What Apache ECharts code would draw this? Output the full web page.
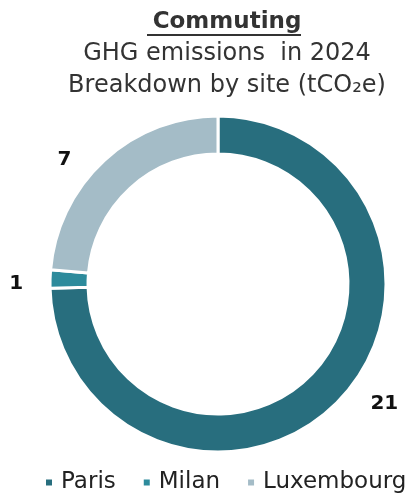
<!DOCTYPE html>
<html>
<head>
<meta charset="utf-8">
<script src="https://cdn.jsdelivr.net/npm/echarts@6/dist/echarts.min.js"></script>
<style>
html,body{margin:0;padding:0;background:#fff;}
#chart{width:412px;height:494px;}
</style>
</head>
<body>
<div id="chart"></div>
<script>
var categories = ['Paris', 'Milan', 'Luxembourg'];
var values = [21.45, 0.5, 6.8];
var colors = ['#286E7E', '#2D8B9C', '#A4BCC7'];
var titleText = 'Commuting';
var subLines = ['GHG emissions  in 2024', 'Breakdown by site (tCO\u2082e)'];

var FONT = 'DejaVu Sans';
var labelLines = [
  {length: 3, length2: 25},
  {length: 0, length2: 22},
  {length: 0, length2: 28}
];
var labelShiftY = [0, 5, 0];

var chart = echarts.init(document.getElementById('chart'), null, {renderer: 'canvas'});
chart.setOption({
  animation: false,
  backgroundColor: '#ffffff',
  title: {
    text: titleText,
    subtext: subLines.join('\n'),
    left: 222,
    textAlign: 'center',
    top: 6,
    itemGap: 4,
    textStyle: {fontFamily: FONT, fontSize: 23, fontWeight: 'bold', color: '#333333'},
    subtextStyle: {fontFamily: FONT, fontSize: 24, color: '#333333', lineHeight: 32}
  },
  legend: {
    top: 471,
    left: 44,
    width: 368,
    padding: 0,
    itemWidth: 8,
    itemHeight: 8,
    itemGap: 26,
    icon: 'rect',
    textStyle: {fontFamily: FONT, fontSize: 23, color: '#222222', padding: [0, 0, 0, 3]},
    data: categories
  },
  graphic: [{
    type: 'rect',
    left: 147, top: 34,
    shape: {width: 154, height: 2},
    style: {fill: '#333333'}
  }],
  series: [{
    type: 'pie',
    center: [218, 284],
    radius: [130, 168],
    startAngle: 90,
    clockwise: true,
    avoidLabelOverlap: false,
    itemStyle: {borderColor: '#ffffff', borderWidth: 3},
    label: {
      show: true,
      position: 'outside',
      fontFamily: FONT,
      fontSize: 20,
      fontWeight: 'bold',
      color: '#111111',
      distanceToLabelLine: 5,
      formatter: function (p) { return String(Math.round(p.value)); }
    },
    labelLayout: function (p) { return {dy: labelShiftY[p.dataIndex]}; },
    labelLine: {show: false},
    emphasis: {disabled: true},
    data: categories.map(function (c, i) {
      return {name: c, value: values[i], itemStyle: {color: colors[i]},
        labelLine: labelLines[i]};
    })
  }]
});
</script>
</body>
</html>
